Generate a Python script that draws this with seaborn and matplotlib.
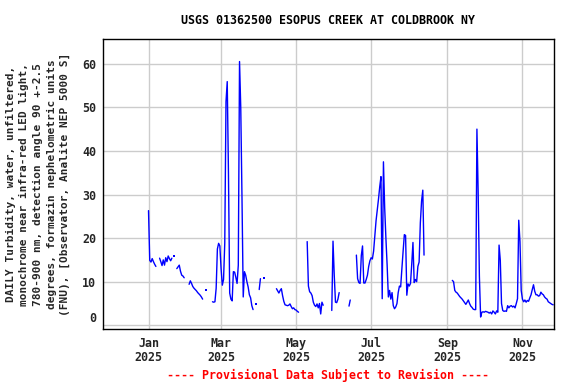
import numpy as np
import pandas as pd
import matplotlib
matplotlib.use("Agg")
import matplotlib.pyplot as plt
import matplotlib.transforms as mtransforms
import seaborn as sns

# ---------------- data (daily values starting 2025-01-01; None = no data) -------------
start_date = "2025-01-01"
turbidity = [
    26.3, 14.9, 14.5, 15.3, 14.6, 14.0, 13.5, None, None, 15.4,   # d0-9
    14.6, 13.7, 15.0, 13.8, 15.5, 14.6, 15.9, 15.3, 14.8, 15.4,   # d10-19
    None, 16.0, None, 13.0, 13.4, 13.8, 12.4, 11.5, 11.3, 10.9,   # d20-29
    None, None, None, 9.4, 10.2, 9.6, 8.9, 8.5, 8.2, 7.9,         # d30-39
    7.5, 7.2, 6.9, 6.5, 6.0, None, None, 8.0, None, None,         # d40-49
    None, None, 5.4, 5.3, 5.4, 8.5, 17.5, 18.8, 18.2, 13.0,       # d50-59
    9.2, 10.5, 18.9, 51.3, 55.9, 34.9, 7.4, 6.0, 5.6, 12.3,       # d60-69
    12.2, 11.0, 9.6, 13.8, 60.5, 49.9, 29.2, 6.5, 12.3, 11.5,     # d70-79
    10.0, 8.8, 7.0, 6.3, 4.5, 3.6, None, 4.8, None, None,         # d80-89
    8.2, 10.7, None, None, 10.8, None, None, None, None, None,    # d90-99
    None, None, None, None, 8.4, 7.9, 7.4, 8.0, 8.4, 6.8,         # d100-109
    5.5, 4.7, 4.6, 4.5, 4.6, 4.9, 4.3, 3.8, 4.0, 3.6,             # d110-119
    3.5, 3.2, 3.0, None, None, None, None, None, None, 19.2,      # d120-129
    9.0, 7.7, 7.4, 6.8, 5.3, 4.6, 4.3, 4.9, 4.0, 5.0,             # d130-139
    2.6, 5.3, 4.6, None, None, None, None, None, None, 3.4,       # d140-149
    19.3, 11.5, 5.3, 5.2, 6.0, 7.5, None, None, None, None,       # d150-159
    None, None, None, 4.4, 5.8, None, None, None, None, 16.1,     # d160-169
    10.7, 9.8, 9.6, 16.0, 18.2, 9.7, 9.7, 10.5, 11.5, 13.5,       # d170-179
    14.8, 15.5, 15.2, 17.0, 20.5, 24.0, 26.5, 29.0, 31.8, 34.1,   # d180-189
    6.1, 37.5, 27.0, 20.0, 13.8, 6.5, 8.0, 6.0, 7.5, 4.5,         # d190-199
    3.8, 4.2, 5.0, 7.5, 9.0, 8.8, 13.0, 17.0, 20.8, 20.6,         # d200-209
    6.9, 9.5, 9.0, 9.6, 14.0, 19.0, 9.8, 10.5, 10.0, 13.5,        # d210-219
    14.5, 23.5, 28.5, 31.0, 16.1, None, None, None, None, None,   # d220-229
    None, None, None, None, None, None, None, None, None, None,   # d230-239
    None, None, None, None, None, None, None, 10.3, 10.0, 8.0,    # d240-249
    7.6, 7.4, 7.0, 6.6, 6.3, 6.0, 5.6, 5.2, 4.8, 5.3,             # d250-259
    5.8, 5.0, 4.4, 4.1, 3.7, 3.6, 3.6, 45.0, 30.6, 11.3,          # d260-269
    1.9, 3.0, 3.1, 3.0, 3.2, 3.1, 3.0, 2.8, 3.0, 2.6,             # d270-279
    3.3, 3.0, 2.6, 3.3, 3.0, 18.4, 14.9, 5.0, 3.4, 3.2,           # d280-289
    3.3, 3.2, 4.5, 4.0, 4.4, 4.5, 4.2, 4.4, 4.0, 5.0,             # d290-299
    6.1, 24.1, 19.2, 8.0, 6.0, 5.4, 5.8, 5.3, 5.7, 5.5,           # d300-309
    6.3, 7.0, 8.2, 9.3, 7.8, 7.0, 7.0, 6.7, 6.8, 7.6,             # d310-319
    7.2, 7.0, 6.5, 6.2, 6.0, 5.4, 5.2, 5.0, 4.8, 4.7,             # d320-329
]
tick_dates = ["2025-01-01", "2025-03-01", "2025-05-01", "2025-07-01", "2025-09-01", "2025-11-01"]
tick_labels = ["Jan\n2025", "Mar\n2025", "May\n2025", "Jul\n2025", "Sep\n2025", "Nov\n2025"]
y_ticks = [0, 10, 20, 30, 40, 50, 60]
title = "USGS 01362500 ESOPUS CREEK AT COLDBROOK NY"
ylabel = ("DAILY Turbidity, water, unfiltered,\n"
          "monochrome near infra-red LED light,\n"
          "780-900 nm, detection angle 90 +-2.5\n"
          "degrees, formazin nephelometric units\n"
          "(FNU), [Observator, Analite NEP 5000 S]")
footer = "---- Provisional Data Subject to Revision ----"

# ---------------- build frame with gap segments ----------------
dates = pd.date_range(start_date, periods=len(turbidity), freq="D")
vals = pd.Series([np.nan if v is None else v for v in turbidity], index=dates)
valid = vals.notna()
seg = (valid != valid.shift(fill_value=False)).cumsum()
df = pd.DataFrame({"date": dates, "value": vals.values, "seg": seg.values})
df = df[valid.values]
seg_sizes = df.groupby("seg")["value"].transform("size")
lines_df = df[seg_sizes > 1]
points_df = df[seg_sizes == 1]

# ---------------- plot ----------------
sns.set_style("white")
plt.rcParams["font.family"] = ["DejaVu Sans Mono", "DejaVu Sans"]
plt.rcParams["font.weight"] = "bold"

fig = plt.figure(figsize=(5.76, 3.84), dpi=100)
ax = fig.add_axes([103 / 576, 1 - 329 / 384, 451 / 576, 290 / 384])

sns.lineplot(data=lines_df, x="date", y="value", units="seg", estimator=None,
             color="#0000ff", linewidth=1.0, ax=ax, legend=False)
sns.scatterplot(data=points_df, x="date", y="value", color="#0000ff", marker="s",
                s=2.5, linewidth=0, ax=ax, legend=False)

ax.set_xlim(pd.Timestamp("2024-11-25"), pd.Timestamp("2025-11-26 16:00"))
ax.set_ylim(-0.85, 65.67)
ax.set_xticks(pd.to_datetime(tick_dates))
ax.set_xticklabels(tick_labels)
ax.set_yticks(y_ticks)
ax.set_yticklabels([str(v) for v in y_ticks])
ax.grid(True, color="#cccccc", linewidth=1.0)
ax.set_axisbelow(True)
ax.set_xlabel("")
ax.set_ylabel("")
ax.tick_params(axis="both", length=0, labelsize=8.4)
ax.tick_params(axis="x", pad=6)
ax.tick_params(axis="y", pad=5)
for lab in ax.get_xticklabels():
    lab.set_fontweight("bold")
    lab.set_linespacing(1.1)
for lab in ax.get_yticklabels():
    lab.set_fontweight("bold")
# lift the "0" label above the x axis line, as in the reference
zero_lab = ax.get_yticklabels()[0]
zero_lab.set_transform(zero_lab.get_transform() +
                       mtransforms.ScaledTranslation(0, 8 / 100, fig.dpi_scale_trans))
for sp in ax.spines.values():
    sp.set_visible(True)
    sp.set_color("black")
    sp.set_linewidth(1.0)

fig.text(328 / 576, 1 - 20 / 384, title, ha="center", va="center",
         fontsize=8.4, fontweight="bold", color="black")
fig.text(38 / 576, 1 - 184 / 384, ylabel, ha="center", va="center", rotation=90,
         multialignment="center", fontsize=8.0, fontweight="bold", linespacing=1.45)
fig.text(328 / 576, 1 - 375 / 384, footer, ha="center", va="center",
         fontsize=8.4, fontweight="bold", color="red")

fig.savefig("out.png", dpi=100)
